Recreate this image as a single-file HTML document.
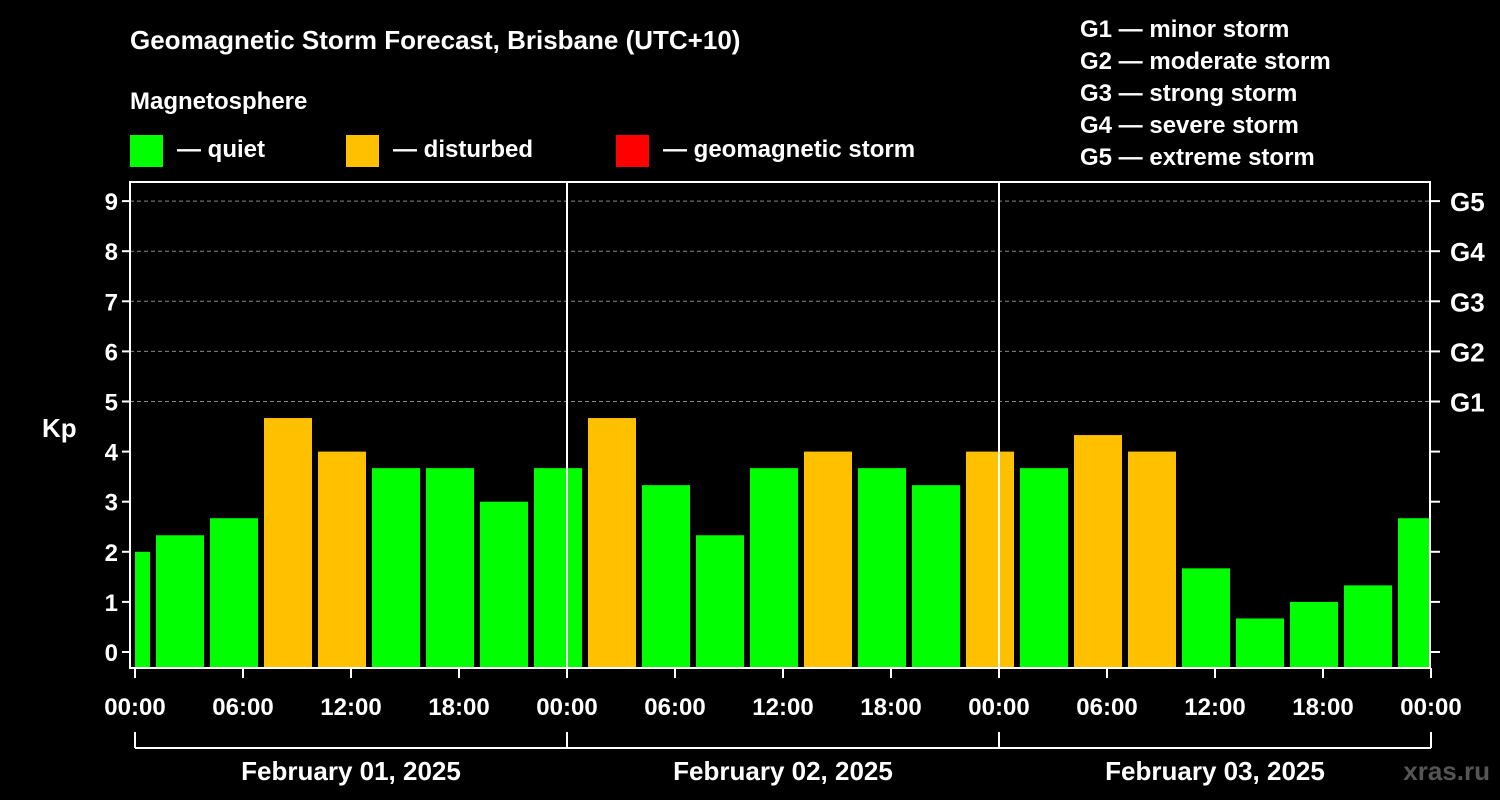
<!DOCTYPE html>
<html><head><meta charset="utf-8"><style>
body{margin:0;background:#000;}
svg{display:block;font-family:"Liberation Sans",Arial,sans-serif;font-weight:bold;}
</style></head><body>
<svg id="c" width="1500" height="800" viewBox="0 0 1500 800">
<rect width="1500" height="800" fill="#000"/>
<text x="130" y="49" fill="#fff" font-size="26">Geomagnetic Storm Forecast, Brisbane (UTC+10)</text>
<text x="130" y="109" fill="#fff" font-size="24">Magnetosphere</text>
<g><rect x="130" y="135" width="33" height="32" fill="#00ff00"/><text x="177" y="157" fill="#fff" font-size="24">— quiet</text></g>
<g><rect x="346" y="135" width="33" height="32" fill="#ffc000"/><text x="393" y="157" fill="#fff" font-size="24">— disturbed</text></g>
<g><rect x="616" y="135" width="33" height="32" fill="#ff0000"/><text x="663" y="157" fill="#fff" font-size="24">— geomagnetic storm</text></g>
<g fill="#fff" font-size="24">
<text x="1080" y="37">G1 — minor storm</text>
<text x="1080" y="69">G2 — moderate storm</text>
<text x="1080" y="101">G3 — strong storm</text>
<text x="1080" y="133">G4 — severe storm</text>
<text x="1080" y="165">G5 — extreme storm</text>
</g>
<text x="42" y="437" fill="#fff" font-size="26">Kp</text>
<text x="1490" y="780" fill="#555" font-size="26" text-anchor="end">xras.ru</text>
<g id="plot"></g>
</svg>
<script>
const kpValues=[2.0,2.33,2.67,4.67,4.0,3.67,3.67,3.0,3.67,4.67,3.33,2.33,3.67,4.0,3.67,3.33,4.0,3.67,4.33,4.0,1.67,0.67,1.0,1.33,2.67];
const yTicks=[0,1,2,3,4,5,6,7,8,9];
const gLabels=["G1","G2","G3","G4","G5"];
const xTickLabels=["00:00","06:00","12:00","18:00","00:00","06:00","12:00","18:00","00:00","06:00","12:00","18:00","00:00"];
const dayLabels=["February 01, 2025","February 02, 2025","February 03, 2025"];
const NS="http://www.w3.org/2000/svg";
const L=130,R=1430,T=182,B=668,X0=135,PXH=18;
const y=v=>652-v*50.1;
const x=h=>X0+h*PXH;
const g=document.getElementById('plot');
function mk(tag,a,parent){const e=document.createElementNS(NS,tag);for(const k in a)e.setAttribute(k,a[k]);(parent||g).appendChild(e);return e;}
// bars
kpValues.forEach((v,i)=>{
 const c=-0.5+3*i;let x1=x(c)-24,x2=x(c)+24;
 x1=Math.max(x1,X0);x2=Math.min(x2,R);
 const r=mk('rect',{x:x1,y:y(v),width:x2-x1,height:B-y(v),fill:v>=4?'#ffc000':'#00ff00'});
 
 
});
// grid
[5,6,7,8,9].forEach(v=>{const l=mk('line',{x1:L,x2:R,y1:y(v),y2:y(v),stroke:'#888','stroke-dasharray':'4,3','stroke-width':1});

});
// day separators
[1,2].forEach(d=>{const l=mk('line',{x1:x(24*d),x2:x(24*d),y1:T,y2:B,stroke:'#fff','stroke-width':2});

});
// frame
const f=mk('rect',{x:L,y:T,width:R-L,height:B-T,fill:'none',stroke:'#fff','stroke-width':2});


yTicks.forEach(v=>{
 mk('line',{x1:L-8,x2:L,y1:y(v),y2:y(v),stroke:'#fff','stroke-width':2});
 mk('line',{x1:R,x2:R+10,y1:y(v),y2:y(v),stroke:'#fff','stroke-width':2});
 const t=mk('text',{x:L-12,y:y(v)+9,fill:'#fff','font-size':24,'text-anchor':'end'});t.textContent=v;
 
 
});
gLabels.forEach((s,i)=>{const t=mk('text',{x:R+20,y:y(5+i)+10,fill:'#fff','font-size':26});t.textContent=s;

});
xTickLabels.forEach((s,i)=>{const xx=x(6*i);
 mk('line',{x1:xx,x2:xx,y1:B,y2:B+10,stroke:'#fff','stroke-width':2});
 const t=mk('text',{x:xx,y:715,fill:'#fff','font-size':24,'text-anchor':'middle'});t.textContent=s;
 
 });
mk('line',{x1:x(0),x2:x(72),y1:748,y2:748,stroke:'#fff','stroke-width':2});
[0,1,2,3].forEach(d=>mk('line',{x1:x(24*d),x2:x(24*d),y1:732,y2:748,stroke:'#fff','stroke-width':2}));
dayLabels.forEach((s,i)=>{const t=mk('text',{x:x(24*i+12),y:780,fill:'#fff','font-size':26,'text-anchor':'middle'});t.textContent=s;

});
</script>
</body></html>
